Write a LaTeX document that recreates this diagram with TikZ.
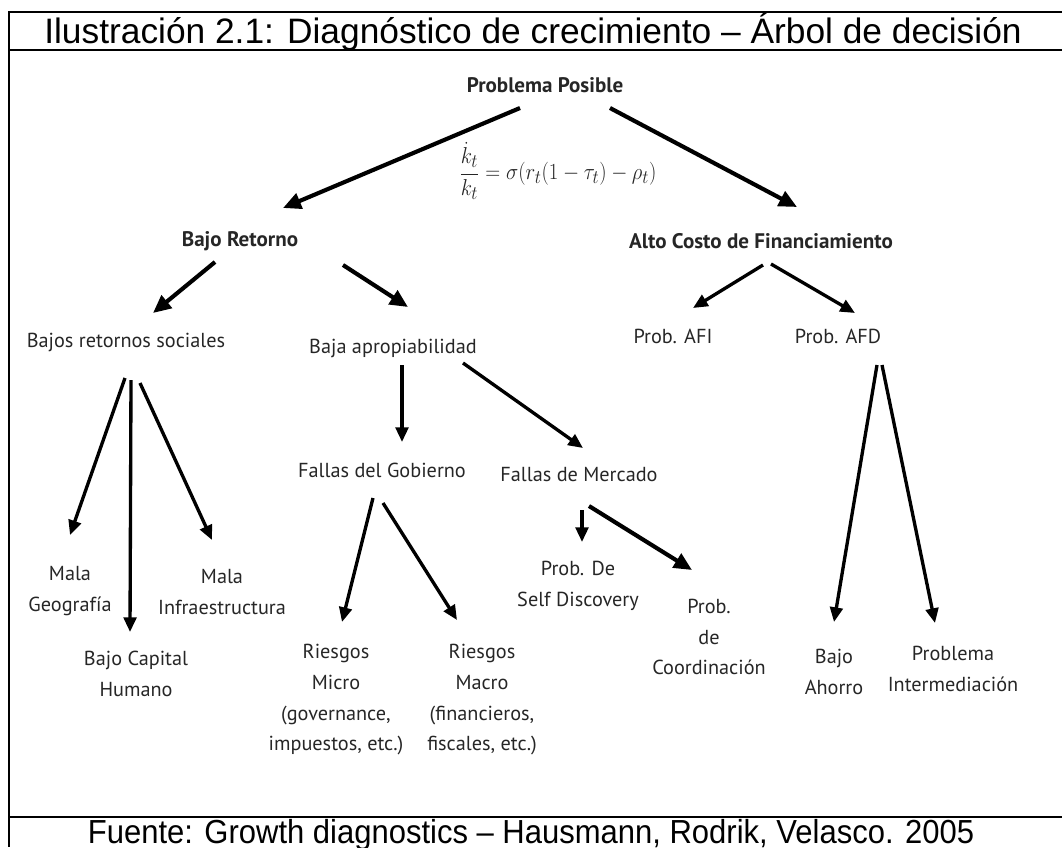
\documentclass[tikz,border=0pt]{standalone}
\usepackage{graphicx}
\usepackage{fontspec}
\setmainfont{Liberation Sans}
\newfontfamily\dfont{PT Sans}
\usetikzlibrary{arrows.meta,calc}
\definecolor{txt}{HTML}{262626}
\tikzset{
  frame/.style={line width=1.6pt, black},
  lbl/.style={inner sep=0pt, text=txt, align=center, font=\dfont\fontsize{15.2}{23}\selectfont},
  hd/.style={lbl, font=\dfont\bfseries\fontsize{15.8}{23}\selectfont},
  arrA/.style={line width=3.1pt, black, -{Triangle[length=13.5pt,width=12pt]}},
  arrB/.style={line width=2.5pt, black, -{Triangle[length=11pt,width=9.5pt]}},
  captxt/.style={inner sep=0pt, anchor=base, font=\fontsize{26.5}{30}\selectfont},
  foottxt/.style={inner sep=0pt, anchor=base, font=\fontsize{25}{28}\selectfont}
}
\begin{document}
\begin{tikzpicture}[x=0.75pt, y=-0.75pt]
\useasboundingbox (0,0) rectangle (1062,847);
% frame
\draw[frame] (1062,12) -- (9,12) -- (9,847);
\draw[frame] (9,50) -- (1062,50);
\draw[frame] (9,817) -- (1062,817);
\node[captxt] (title) at (533,43) {Ilustración 2.1: Diagnóstico de crecimiento – Árbol de decisión};
\node[foottxt] (foot) at (531,843) {\scalebox{0.93}[1]{Fuente: Growth diagnostics – Hausmann, Rodrik, Velasco. 2005}};
% nodes
\node[hd] (pp) at (545,85) {Problema Posible};
\node[hd] (br) at (240,241) {Bajo Retorno};
\node[hd] (ac) at (761,241) {Alto Costo de Financiamiento};
\node[inner sep=0pt, text=txt, font=\fontsize{19}{22}\selectfont] (eq) at (558,171)
  {\scalebox{0.9}[1]{$\displaystyle \frac{\dot{k}_t}{k_t}=\sigma(r_t(1-\tau_t)-\rho_t)$}};
\node[lbl] (brs) at (126,342) {Bajos retornos sociales};
\node[lbl] (ba) at (393,348) {Baja apropiabilidad};
\node[lbl] (afi) at (673,336) {Prob. AFI};
\node[lbl] (afd) at (838,336) {Prob. AFD};
\node[lbl] (mg) at (70,591) {Mala\\Geografía};
\node[lbl] (bch) at (136,674) {Bajo Capital\\Humano};
\node[lbl] (mi) at (222,592) {Mala\\Infraestructura};
\node[lbl] (fg) at (382,470) {Fallas del Gobierno};
\node[lbl] (fm) at (579,475) {Fallas de Mercado};
\node[lbl] (rmi) at (336,700) {Riesgos\\Micro\\(governance,\\impuestos, etc.)};
\node[lbl] (rma) at (482,700) {Riesgos\\Macro\\(financieros,\\fiscales, etc.)};
\node[lbl] (psd) at (578,586) {Prob. De\\Self Discovery};
\node[lbl] (pc) at (709,637) {Prob.\\de\\Coordinación};
\node[lbl] (bah) at (834,672) {Bajo\\Ahorro};
\node[lbl] (pi) at (953,669) {Problema\\Intermediación};
% connectors
\draw[arrA] ($(pp)+(-25,23)$) -- ($(br)+(43,-33)$);
\draw[arrA] ($(pp)+(65,23)$) -- ($(ac)+(36,-34)$);
\draw[arrA] ($(br)+(-25,21)$) -- ($(brs)+(27,-29)$);
\draw[arrA] ($(br)+(103,24)$) -- ($(ba)+(15,-41)$);
\draw[arrB] ($(ac)+(2,24)$) -- ($(afi)+(20,-28)$);
\draw[arrB] ($(ac)+(10,23)$) -- ($(afd)+(17,-23)$);
\draw[arrB] ($(brs)+(-1,36)$) -- ($(mg)+(0,-56)$);
\draw[arrB] ($(brs)+(5,38)$) -- ($(bch)+(-6,-42)$);
\draw[arrB] ($(brs)+(14,41)$) -- ($(mi)+(-10,-52)$);
\draw[arrB] ($(ba)+(9,17)$) -- ($(fg)+(20,-28)$);
\draw[arrB] ($(ba)+(70,15)$) -- ($(fm)+(4,-27)$);
\draw[arrB] ($(fg)+(-9,28)$) -- ($(rmi)+(6,-78)$);
\draw[arrB] ($(fg)+(1,33)$) -- ($(rma)+(-25,-80)$);
\draw[arrB] ($(fm)+(3,35)$) -- ($(psd)+(4,-44)$);
\draw[arrA] ($(fm)+(10,31)$) -- ($(pc)+(-17,-67)$);
\draw[arrB] ($(afd)+(39,29)$) -- ($(bah)+(0,-50)$);
\draw[arrB] ($(afd)+(44,29)$) -- ($(pi)+(-18,-46)$);
\end{tikzpicture}
\end{document}
